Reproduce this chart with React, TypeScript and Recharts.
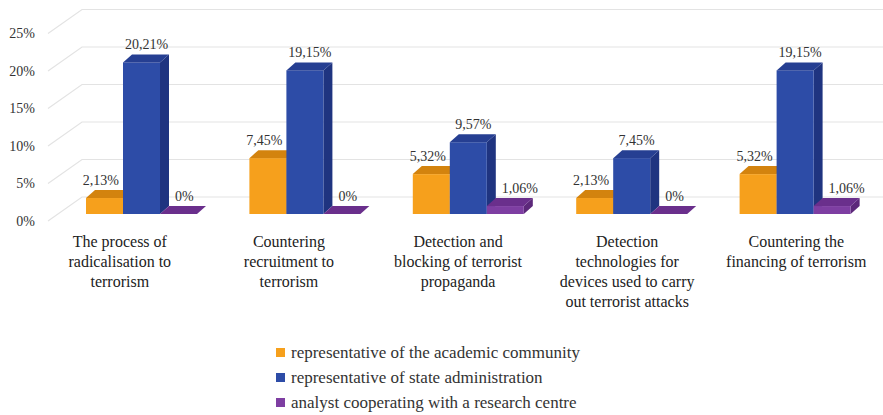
import React from "react";
import { BarChart, Bar, XAxis, YAxis, CartesianGrid, LabelList } from "recharts";

const categories = [
  "The process of radicalisation to terrorism",
  "Countering recruitment to terrorism",
  "Detection and blocking of terrorist propaganda",
  "Detection technologies for devices used to carry out terrorist attacks",
  "Countering the financing of terrorism",
];
const categoryLines = [
  ["The process of", "radicalisation to", "terrorism"],
  ["Countering", "recruitment to", "terrorism"],
  ["Detection and", "blocking of terrorist", "propaganda"],
  ["Detection", "technologies for", "devices used to carry", "out terrorist attacks"],
  ["Countering the", "financing of terrorism"],
];
const academic = [2.13, 7.45, 5.32, 2.13, 5.32];
const stateAdmin = [20.21, 19.15, 9.57, 7.45, 19.15];
const analyst = [0, 0, 1.06, 0, 1.06];
const yTicks = [0, 5, 10, 15, 20, 25];

const seriesNames = [
  "representative of the academic community",
  "representative of state administration",
  "analyst cooperating with a research centre",
];

const COLORS = {
  academic: { front: "#F6A01C", top: "#D3830E", side: "#C4780C" },
  state: { front: "#2D4CA7", top: "#263F92", side: "#1F3480" },
  analyst: { front: "#7E3EA2", top: "#6A2F8C", side: "#5C287A" },
};

const DX = 9;
const DY = 8;
const FONT = "Liberation Serif";

const data = categories.map((name, i) => ({
  name,
  academic: academic[i],
  state: stateAdmin[i],
  analyst: analyst[i],
}));

function fmtPct(v: number): string {
  if (v === 0) return "0%";
  return v.toFixed(2).replace(".", ",") + "%";
}

// column drawn as a prism: front face, top face, right side
function makeBar3D(c: { front: string; top: string; side: string }) {
  return (props: any) => {
    const x = Number(props.x);
    const y = Number(props.y);
    const w = Number(props.width);
    const h = Math.max(0, Number(props.height) || 0);
    const top = `${x},${y} ${x + DX},${y - DY} ${x + w + DX},${y - DY} ${x + w},${y}`;
    const side = `${x + w},${y} ${x + w + DX},${y - DY} ${x + w + DX},${y + h - DY} ${x + w},${y + h}`;
    return (
      <g>
        <polygon points={side} fill={c.side} />
        <rect x={x} y={y} width={w} height={h} fill={c.front} />
        <polygon points={top} fill={c.top} />
      </g>
    );
  };
}

// anchor: where the value sits relative to the bar front
function makeValueLabel(anchor: "end" | "middle" | "start") {
  return (props: any) => {
    const x = Number(props.x);
    const y = Number(props.y);
    const w = Number(props.width);
    const lx = anchor === "end" ? x + w - 4 : anchor === "start" ? x + 15 : x + w / 2 + 5;
    return (
      <text
        x={lx}
        y={y - DY - 10}
        textAnchor={anchor}
        dominantBaseline="central"
        fontFamily={FONT}
        fontSize={14}
        fill="#333"
      >
        {fmtPct(Number(props.value))}
      </text>
    );
  };
}

function YTick(props: any) {
  const { x, y, payload } = props;
  return (
    <text
      x={x - 25}
      y={y + 7}
      textAnchor="end"
      dominantBaseline="central"
      fontFamily={FONT}
      fontSize={14}
      fill="#333"
    >
      {payload.value}%
    </text>
  );
}

function XTick(props: any) {
  const { x, y, index } = props;
  const lines = categoryLines[index] || [];
  // floor perspective pulls the labels slightly toward the left
  const lx = x + 0.035 * (x - 767);
  return (
    <text textAnchor="middle" fontFamily={FONT} fontSize={16} fill="#222">
      {lines.map((ln, i) => (
        <tspan key={i} x={lx} y={y + 33 + i * 20}>
          {ln}
        </tspan>
      ))}
    </text>
  );
}

function GridLine(props: any) {
  const { x1, y1 } = props;
  const wallX = x1 + 22;
  const wallY = y1 - 17;
  return (
    <polyline
      key={props.key}
      points={`${x1 - 12},${y1 + 7} ${wallX},${wallY} 883,${wallY}`}
      fill="none"
      stroke="#e3e3e3"
      strokeWidth={1.2}
    />
  );
}

export default function App() {
  const swatches = [COLORS.academic.front, COLORS.state.front, COLORS.analyst.front];
  return (
    <div style={{ position: "relative", width: 883, height: 415, background: "#fff", fontFamily: FONT }}>
      <style>{"body{margin:0}"}</style>
      <BarChart
        width={883}
        height={415}
        data={data}
        margin={{ top: 26.5, right: 6, left: 0, bottom: 141 }}
        barSize={37}
        barGap={0}
      >
        <CartesianGrid vertical={false} horizontal={GridLine} />
        <XAxis
          dataKey="name"
          axisLine={false}
          tickLine={false}
          tickSize={0}
          tickMargin={0}
          interval={0}
          tick={<XTick />}
          height={60}
        />
        <YAxis
          domain={[0, 25]}
          ticks={yTicks}
          axisLine={false}
          tickLine={false}
          tickSize={0}
          tickMargin={0}
          width={60}
          tick={<YTick />}
        />
        <Bar dataKey="academic" isAnimationActive={false} shape={makeBar3D(COLORS.academic)}>
          <LabelList dataKey="academic" content={makeValueLabel("end")} />
        </Bar>
        <Bar dataKey="state" isAnimationActive={false} shape={makeBar3D(COLORS.state)}>
          <LabelList dataKey="state" content={makeValueLabel("middle")} />
        </Bar>
        <Bar dataKey="analyst" isAnimationActive={false} shape={makeBar3D(COLORS.analyst)}>
          <LabelList dataKey="analyst" content={makeValueLabel("start")} />
        </Bar>
      </BarChart>
      <div
        style={{
          position: "absolute",
          left: 276,
          top: 340,
          fontFamily: FONT,
          fontSize: 17,
          color: "#333",
          lineHeight: "25px",
        }}
      >
        {seriesNames.map((n, i) => (
          <div key={n} style={{ display: "flex", alignItems: "center", whiteSpace: "nowrap" }}>
            <span
              style={{ width: 9, height: 9, background: swatches[i], marginRight: 6, display: "inline-block" }}
            />
            {n}
          </div>
        ))}
      </div>
    </div>
  );
}
